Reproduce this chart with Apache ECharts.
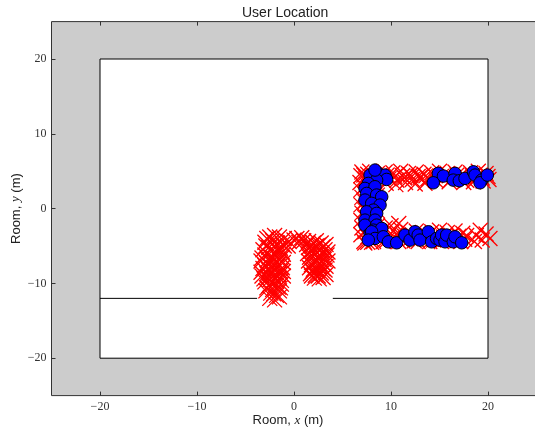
<!DOCTYPE html>
<html><head><meta charset="utf-8">
<script src="https://cdn.jsdelivr.net/npm/echarts@6/dist/echarts.min.js"></script>
<style>html,body{margin:0;padding:0;background:#fff}#c{width:535px;height:434px}</style>
</head><body><div id="c"></div>
<script>
const xTicks = [-20, -10, 0, 10, 20];
const yTicks = [-20, -10, 0, 10, 20];
const roomCorners = [[-20, -20, 20, 20]];
const wallLeft = [[-20, -12], [-3.8, -12]];
const wallRight = [[4, -12], [20, -12]];

const redPoints = [
  // arch left leg
  [-3.0,-4.5],[-2.5,-3.8],[-2.0,-3.6],[-1.5,-3.8],[-1.0,-4.0],[-0.5,-4.4],[0.0,-4.2],[0.5,-4.5],[1.0,-4.3],[1.5,-4.4],[2.0,-4.6],[2.5,-4.9],[3.0,-5.1],
  [-3.2,-5.5],[-2.6,-5.2],[-2.0,-5.0],[-1.4,-5.3],[-1.0,-5.0],[-3.0,-6.2],[-2.4,-6.4],[-1.8,-6.0],[-1.2,-6.5],
  [-3.4,-7.0],[-2.8,-7.3],[-2.2,-7.0],[-1.6,-7.5],[-1.1,-7.2],[-3.2,-8.0],[-2.6,-8.2],[-2.0,-8.0],[-1.4,-8.4],
  [-3.3,-9.0],[-2.7,-9.2],[-2.1,-9.0],[-1.5,-9.3],[-1.1,-9.0],[-3.0,-9.8],[-2.4,-10.0],[-1.8,-9.7],[-1.3,-10.1],
  [-2.8,-10.6],[-2.2,-10.8],[-1.6,-10.5],[-2.4,-11.3],[-1.8,-11.6],[-2.0,-12.2],[-1.5,-11.0],
  [-2.8,-4.0],[-2.2,-4.3],[-1.7,-4.6],[-1.2,-4.8],[-0.6,-5.0],[0.3,-4.0],[0.8,-3.9],[1.3,-4.8],[1.8,-5.0],[2.3,-4.3],[2.8,-4.6],[3.3,-4.8],
  [-2.9,-5.0],[-2.3,-5.7],[-1.7,-5.6],[-1.2,-5.8],[-3.3,-6.6],[-2.7,-6.8],[-2.1,-6.6],[-1.5,-6.9],[-1.1,-6.1],
  [-3.0,-7.6],[-2.4,-7.7],[-1.8,-7.8],[-1.2,-7.9],[-3.4,-8.5],[-2.8,-8.7],[-2.2,-8.5],[-1.6,-8.8],[-1.1,-8.4],
  [-3.1,-9.4],[-2.5,-9.5],[-1.9,-9.4],[-1.3,-9.6],[-2.6,-10.3],[-2.0,-10.3],[-1.4,-10.6],[-2.9,-11.0],[-2.1,-11.4],[-1.5,-11.8],[-2.5,-12.0],
  // arch right leg
  [1.5,-5.2],[2.0,-5.4],[2.6,-5.6],[3.2,-5.5],[1.4,-6.0],[1.8,-6.2],[2.2,-6.0],[2.8,-6.4],[3.4,-6.2],
  [1.5,-7.0],[1.9,-7.2],[2.4,-7.0],[3.0,-7.3],[3.5,-7.0],[1.6,-7.9],[2.0,-8.1],[2.6,-7.8],[3.2,-8.2],
  [1.7,-8.7],[2.2,-8.9],[2.8,-8.6],[2.1,-9.3],[2.6,-9.4],[3.3,-8.8],
  [1.7,-5.7],[2.3,-5.0],[2.9,-5.9],[3.5,-5.8],[1.6,-6.5],[2.5,-6.6],[3.1,-6.8],[1.8,-7.5],[2.7,-7.4],[3.3,-7.7],
  [1.9,-8.4],[2.4,-8.3],[3.0,-8.0],[2.5,-9.0],[3.0,-9.2],[1.8,-9.0],
  // top bar
  [7.0,4.9],[7.8,5.0],[8.6,4.7],[9.4,4.9],[10.2,4.8],[11.0,5.0],[11.8,4.7],[12.6,4.9],[13.4,4.6],[14.2,4.8],[15.0,5.0],[15.8,4.7],[16.6,4.9],[17.4,4.6],[18.2,4.8],[19.0,5.0],[19.8,4.7],
  [7.4,4.1],[8.2,3.9],[9.0,4.2],[9.8,4.0],[10.6,3.8],[11.4,4.1],[12.2,3.9],[13.0,4.2],[13.8,4.0],[14.6,3.8],[15.4,4.1],[16.2,3.9],[17.0,4.2],[17.8,3.8],[18.6,4.0],[19.4,4.1],[20.1,3.9],
  [7.2,4.5],[8.0,4.3],[8.8,4.4],[9.6,4.5],[10.4,4.3],[11.2,4.4],[12.0,4.5],[12.8,4.3],[13.6,4.4],[14.4,4.5],[15.2,4.3],[16.0,4.4],[16.8,4.5],[17.6,4.3],[18.4,4.4],[19.2,4.5],[20.0,4.3],
  [9.5,3.4],[10.5,3.2],[11.5,3.5],[12.5,3.3],[13.5,3.4],[16.0,3.6],[17.5,3.5],[18.5,3.6],[19.5,3.7],
  // left vertical
  [6.9,4.4],[7.6,4.6],[6.8,3.5],[7.5,3.2],[8.3,3.6],[6.9,2.5],[7.7,2.2],[8.5,2.8],[7.0,1.5],[7.8,1.2],[8.6,1.8],
  [6.9,0.5],[7.6,0.2],[8.4,0.7],[7.0,-0.6],[7.8,-0.9],[8.6,-0.3],[6.9,-1.6],[7.6,-1.9],[8.4,-1.3],
  [7.0,-2.6],[7.8,-2.9],[8.6,-2.3],[6.9,-3.5],[7.6,-3.8],[8.4,-3.3],[7.2,-4.4],[8.0,-4.5],
  [7.3,3.9],[7.2,2.9],[8.1,2.6],[7.3,1.9],[8.2,1.5],[7.3,0.9],[8.0,0.4],[7.3,-0.2],[8.2,-0.5],[7.3,-1.2],
  [8.0,-1.5],[7.3,-2.2],[8.2,-2.6],[7.3,-3.1],[8.0,-3.5],[7.6,-4.5],
  // bottom bar
  [9.4,-2.6],[10.2,-3.0],[11.0,-2.8],[11.8,-3.2],[12.6,-3.0],[13.4,-3.3],[14.2,-3.1],[15.0,-2.9],[15.8,-3.2],[16.6,-3.0],[17.4,-3.3],
  [8.8,-3.8],[9.6,-4.2],[10.4,-3.9],[11.2,-4.3],[12.0,-4.0],[12.8,-4.4],[13.6,-3.9],[14.4,-4.2],[15.2,-4.4],[16.0,-4.0],[16.8,-4.3],[17.6,-4.1],
  [9.0,-3.3],[9.8,-3.6],[10.6,-3.4],[11.4,-3.7],[12.2,-3.5],[13.0,-3.8],[13.8,-3.6],[14.6,-3.5],[15.4,-3.8],[16.2,-3.6],[17.0,-3.7],[17.8,-3.6],
  [9.2,-4.4],[10.8,-4.4],[12.4,-4.3],[14.0,-4.4],[15.6,-4.1],[17.2,-4.4],
  [7.3,-4.6],[8.2,-4.4],[10.0,-2.3],[10.8,-2.0],
  [18.8,-3.6],[19.4,-4.2],[19.8,-3.4],[20.2,-4.0],[19.2,-2.9],[18.6,-4.4]
];

const bluePoints = [
  [7.84,4.48],[8.69,4.71],[9.38,4.48],[9.55,3.9],[8.52,3.81],[7.66,3.37],[7.32,2.7],[8.35,2.92],[7.49,2.03],[8.52,1.81],
  [9.04,1.58],[7.32,1.14],[8.01,0.7],[8.87,0.47],[8.18,-0.2],[7.49,-0.43],[8.52,-0.64],[7.32,-1.54],[8.35,-1.54],[7.32,-2.21],
  [8.52,-2.21],[8.18,-2.88],[9.04,-2.65],[7.84,-3.32],[8.01,-3.1],[8.35,-3.99],[9.21,-3.77],[7.66,-4.21],[8.35,5.15],
  [9.73,-4.44],[10.58,-4.57],[11.44,-3.54],[11.96,-4.21],[12.47,-3.1],[12.8,-3.54],[12.99,-4.21],[13.85,-3.1],[14.19,-4.44],
  [14.7,-3.99],[15.05,-4.21],[15.22,-3.54],[15.57,-4.44],[15.74,-3.54],[16.42,-4.44],[16.6,-3.77],[17.29,-4.57],
  [14.88,4.71],[15.4,4.35],[14.36,3.45],[16.6,4.71],[16.42,3.81],[17.04,3.72],[17.63,4.04],[18.49,4.92],[18.66,4.48],
  [19.35,3.81],[19.18,3.45],[19.93,4.48]
];

const fmt = v => String(v).replace('-', '\u2212');
const serif = 'Liberation Serif';
const sans = 'Liberation Sans';

const chart = echarts.init(document.getElementById('c'), null, {renderer: 'canvas'});
chart.setOption({
  animation: false,
  backgroundColor: '#ffffff',
  title: {
    text: 'User Location', left: 237, top: 1,
    textStyle: {fontFamily: sans, fontSize: 14, fontWeight: 'normal', color: '#222'}
  },
  grid: {
    left: 51.5, top: 21.6, width: 485, height: 374,
    outerBoundsMode: 'none', containLabel: false,
    show: true, backgroundColor: '#cccccc', borderColor: '#333', borderWidth: 1
  },
  xAxis: [{
    type: 'value', min: -25, max: 25, position: 'bottom',
    splitLine: {show: false},
    axisLine: {show: false, onZero: false},
    axisTick: {customValues: xTicks, inside: true, length: 4, lineStyle: {color: '#333'}},
    axisLabel: {customValues: xTicks, formatter: fmt, fontFamily: serif, fontSize: 12, color: '#333', margin: 5},
    name: 'Room, {i|x} (m)', nameLocation: 'middle', nameGap: 18, nameMoveOverlap: false,
    nameTextStyle: {fontFamily: sans, fontSize: 13, color: '#222', padding: [0, 12, 0, 0],
      rich: {i: {fontFamily: serif, fontStyle: 'italic', fontSize: 13, color: '#222'}}}
  }, {
    type: 'value', min: -25, max: 25, position: 'top',
    splitLine: {show: false}, axisLine: {show: false, onZero: false},
    axisTick: {customValues: xTicks, inside: true, length: 4, lineStyle: {color: '#333'}},
    axisLabel: {show: false}
  }],
  yAxis: [{
    type: 'value', min: -25, max: 25, position: 'left',
    splitLine: {show: false},
    axisLine: {show: false, onZero: false},
    axisTick: {customValues: yTicks, inside: true, length: 4, lineStyle: {color: '#333'}},
    axisLabel: {customValues: yTicks, formatter: fmt, fontFamily: serif, fontSize: 12, color: '#333', margin: 5},
    name: 'Room, {i|y} (m)', nameLocation: 'middle', nameGap: 29, nameMoveOverlap: false,
    nameTextStyle: {fontFamily: sans, fontSize: 13, color: '#222',
      rich: {i: {fontFamily: serif, fontStyle: 'italic', fontSize: 13, color: '#222'}}}
  }],
  series: [
    {
      type: 'custom', z: 1, silent: true,
      data: roomCorners,
      encode: {x: [0, 2], y: [1, 3]},
      renderItem: function (params, api) {
        const p0 = api.coord([api.value(0), api.value(1)]);
        const p1 = api.coord([api.value(2), api.value(3)]);
        return {
          type: 'rect',
          shape: {x: Math.min(p0[0], p1[0]), y: Math.min(p0[1], p1[1]),
                  width: Math.abs(p1[0] - p0[0]), height: Math.abs(p1[1] - p0[1])},
          style: {fill: '#ffffff', stroke: '#000000', lineWidth: 1}
        };
      }
    },
    {type: 'line', z: 2, data: wallLeft, symbol: 'none', silent: true, lineStyle: {color: '#000', width: 1}},
    {type: 'line', z: 2, data: wallRight, symbol: 'none', silent: true, lineStyle: {color: '#000', width: 1}},
    {
      type: 'scatter', z: 3, data: redPoints, silent: true,
      symbol: 'path://M0,0L10,10M10,0L0,10', symbolSize: 15,
      itemStyle: {color: 'rgba(0,0,0,0)', borderColor: '#ff0000', borderWidth: 1.3, opacity: 1}
    },
    {
      type: 'scatter', z: 4, data: bluePoints, silent: true,
      symbol: 'circle', symbolSize: 12.5,
      itemStyle: {color: '#0000ff', borderColor: '#000000', borderWidth: 1, opacity: 1}
    }
  ]
});
</script>
</body></html>
